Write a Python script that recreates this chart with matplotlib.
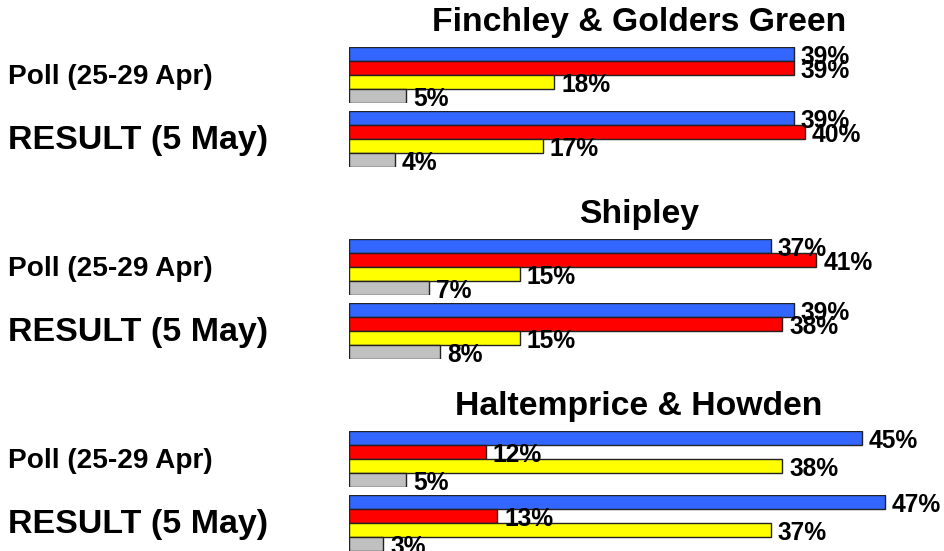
import matplotlib.pyplot as plt

plt.rcParams['font.family'] = ['Liberation Sans', 'DejaVu Sans']
plt.rcParams['font.weight'] = 'bold'

titles = ["Finchley & Golders Green", "Shipley", "Haltemprice & Howden"]
rows = ["Poll (25-29 Apr)", "RESULT (5 May)"]
colors = ["#3366ff", "#ff0000", "#ffff00", "#c0c0c0"]

finchley = [[39, 39, 18, 5], [39, 40, 17, 4]]
shipley = [[37, 41, 15, 7], [39, 38, 15, 8]]
haltemprice = [[45, 12, 38, 5], [47, 13, 37, 3]]
panels = [finchley, shipley, haltemprice]

W, H = 945, 551
fig = plt.figure(figsize=(W / 100, H / 100), dpi=100)

x0, x1 = 349, 919
for p, data in enumerate(panels):
    base = 47 + p * 192
    fig.text(639 / W, 1 - (base - 24) / H, titles[p], ha="center", va="center",
             fontsize=24.3, fontweight="bold")
    for g, vals in enumerate(data):
        top = base + g * 64
        ax = fig.add_axes([x0 / W, 1 - (top + 56) / H, (x1 - x0) / W, 56 / H])
        ypos = [0.5, 1.5, 2.5, 3.5]
        ax.barh(ypos, vals, height=1, color=colors, edgecolor="#222222", linewidth=1)
        for y, v in zip(ypos, vals):
            ax.annotate(f"{v}%", (v, y), xytext=(5, -2.5), textcoords="offset points",
                        ha="left", va="center", fontsize=17.7, fontweight="bold",
                        annotation_clip=False)
        ax.set_xlim(0, 50)
        ax.set_ylim(4, 0)
        ax.axis("off")
        size = 20.2 if g == 0 else 24.5
        fig.text(8 / W, 1 - (top + 30) / H, rows[g], ha="left", va="center",
                 fontsize=size, fontweight="bold")

fig.savefig("out.png", dpi=100)
